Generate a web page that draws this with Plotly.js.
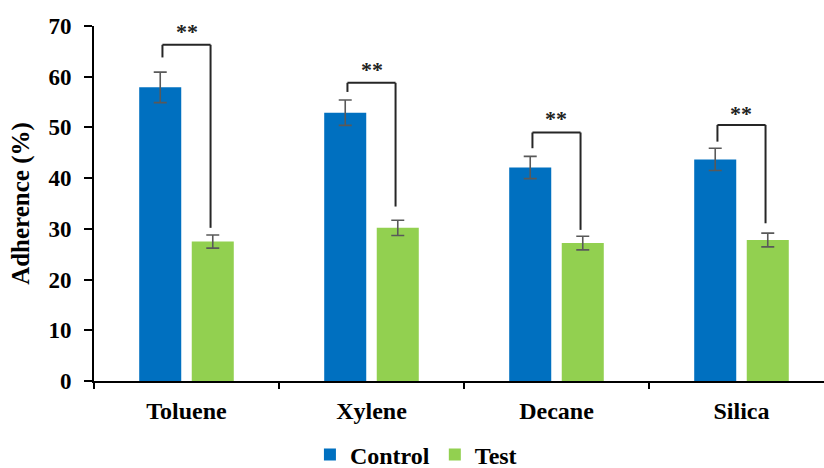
<!DOCTYPE html>
<html>
<head>
<meta charset="utf-8">
<script src="https://cdn.plot.ly/plotly-3.0.1.min.js"></script>
<style>html,body{margin:0;padding:0;background:#fff;}#chart{width:824px;height:468px;}</style>
</head>
<body>
<div id="chart"></div>
<script>
const categories = ["Toluene", "Xylene", "Decane", "Silica"];
const controlValues = [57.9, 52.9, 42.1, 43.7];
const controlErrors = [3.0, 2.5, 2.2, 2.2];
const testValues = [27.5, 30.2, 27.2, 27.8];
const testErrors = [1.3, 1.5, 1.35, 1.35];
const seriesNames = ["Control", "Test"];
const yTicks = [0, 10, 20, 30, 40, 50, 60, 70];
// significance brackets: left start, top, right end, star label
const bracketLeft = [63.8, 57.0, 45.9, 47.2];
const bracketTop = [66.3, 58.8, 49.0, 50.5];
const bracketRight = [30.2, 34.4, 29.8, 31.1];
const starLevel = [68.9, 61.5, 51.7, 52.7];
const starText = ["**", "**", "**", "**"];

const FONT = "Liberation Serif";
const errStyle = {type: "data", visible: true, color: "#595959", thickness: 1.6, width: 6.5};

const traces = [
  {type: "bar", name: seriesNames[0], x: categories, y: controlValues,
   marker: {color: "#0070C0"},
   error_y: Object.assign({array: controlErrors}, errStyle)},
  {type: "bar", name: seriesNames[1], x: categories, y: testValues,
   marker: {color: "#92D050"},
   error_y: Object.assign({array: testErrors}, errStyle)}
];

const shapes = [];
const annotations = [];
const dx = 0.13;
categories.forEach((c, i) => {
  const ln = {color: "#262626", width: 2};
  shapes.push({type: "line", xref: "x", yref: "y", x0: i - dx, x1: i - dx, y0: bracketLeft[i], y1: bracketTop[i], line: ln});
  shapes.push({type: "line", xref: "x", yref: "y", x0: i - dx, x1: i + dx, y0: bracketTop[i], y1: bracketTop[i], line: ln});
  shapes.push({type: "line", xref: "x", yref: "y", x0: i + dx, x1: i + dx, y0: bracketTop[i], y1: bracketRight[i], line: ln});
  annotations.push({xref: "x", yref: "y", x: i, y: starLevel[i], text: starText[i], showarrow: false,
    font: {family: FONT, size: 22, color: "#222", weight: "bold"}, yanchor: "middle"});
});

const layout = {
  width: 824, height: 468,
  margin: {l: 94, r: 0, t: 25.5, b: 86.5, autoexpand: false},
  paper_bgcolor: "#fff", plot_bgcolor: "#fff",
  barmode: "group", bargap: 0.432, bargroupgap: 0.2,
  showlegend: true,
  legend: {orientation: "h", x: 0.441, xanchor: "center", y: -0.208, yanchor: "middle",
    font: {family: FONT, size: 24, color: "#000", weight: "bold"}, itemwidth: 30, tracegroupgap: 0},
  xaxis: {type: "category", range: [-0.5, 3.446], showline: true, linecolor: "#000", linewidth: 2,
    ticks: "outside", tickson: "boundaries", ticklen: 6, tickwidth: 2, tickcolor: "#000",
    tickfont: {family: FONT, size: 24, color: "#000", weight: "bold"}, ticklabelstandoff: 7,
    showgrid: false, zeroline: false, fixedrange: true},
  yaxis: {range: [0, 70], tickvals: yTicks, ticktext: yTicks.map(String), showline: true, linecolor: "#000", linewidth: 2,
    ticks: "outside", ticklen: 8, tickwidth: 2, tickcolor: "#000", ticklabelstandoff: 8,
    tickfont: {family: FONT, size: 23, color: "#000", weight: "bold"},
    title: {text: "Adherence (%)", font: {family: FONT, size: 25, color: "#000", weight: "bold"}, standoff: 12},
    showgrid: false, zeroline: false},
  shapes: shapes,
  annotations: annotations,
  font: {family: FONT}
};

Plotly.newPlot("chart", traces, layout, {displayModeBar: false, staticPlot: true});
</script>
</body>
</html>
